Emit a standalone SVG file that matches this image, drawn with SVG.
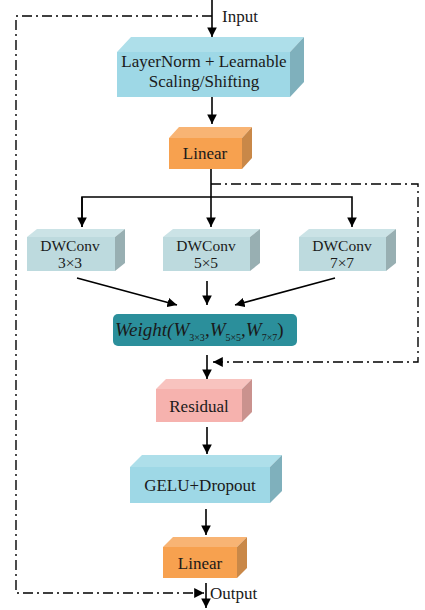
<svg xmlns="http://www.w3.org/2000/svg" width="425" height="610" viewBox="0 0 425 610">
<style>
text{font-family:'Liberation Serif','DejaVu Serif',serif;fill:#1a1a1a;}
.lbl{font-size:17px;text-anchor:middle;}
.dw{font-size:15.5px;text-anchor:middle;}
.ln{stroke:#000;stroke-width:1.6;fill:none;}
.dd{stroke:#000;stroke-width:1.4;fill:none;stroke-dasharray:10 4 2 4;}
.cf{fill:#9ED8E6}.ct{fill:#AEDFEA}.cs{fill:#7FB0BC}
.of{fill:#F7A14F}.ot{fill:#F8B474}.os{fill:#C98848}
.gf{fill:#BDDADE}.gt{fill:#CBE3E6}.gs{fill:#98AFB2}
.pf{fill:#F6B2AE}.pt{fill:#F8C3BF}.ps{fill:#CA928E}
</style>
<defs>
<marker id="ah" viewBox="0 0 10 10" refX="10" refY="5" markerWidth="6" markerHeight="6" orient="auto" markerUnits="strokeWidth">
<path d="M0,0 L10,5 L0,10 z" fill="#000"/>
</marker>
<marker id="ah2" viewBox="0 0 10 10" refX="10" refY="5" markerWidth="7" markerHeight="7" orient="auto" markerUnits="strokeWidth">
<path d="M0,0 L10,5 L0,10 z" fill="#000"/>
</marker>
</defs>

<g id="connectors">
<line class="ln" x1="212" y1="0" x2="212" y2="37" marker-end="url(#ah)"/>
<line class="ln" x1="212" y1="97" x2="212" y2="124" marker-end="url(#ah)"/>
<line class="ln" x1="211" y1="169" x2="211" y2="227" marker-end="url(#ah)"/>
<polyline class="ln" points="82,227 82,197 352,197 352,227" marker-end="url(#ah)"/>
<line class="ln" x1="82" y1="197" x2="82" y2="227" marker-end="url(#ah)"/>
<line class="ln" x1="77" y1="278" x2="177" y2="305" marker-end="url(#ah)"/>
<line class="ln" x1="207" y1="281" x2="207" y2="305" marker-end="url(#ah)"/>
<line class="ln" x1="335" y1="278" x2="235" y2="305" marker-end="url(#ah)"/>
<line class="ln" x1="207" y1="355" x2="207" y2="379" marker-end="url(#ah)"/>
<line class="ln" x1="207" y1="427" x2="207" y2="454" marker-end="url(#ah)"/>
<line class="ln" x1="206" y1="509" x2="206" y2="535" marker-end="url(#ah)"/>
<line class="ln" x1="206" y1="583" x2="206" y2="608" marker-end="url(#ah)"/>
<polyline class="dd" points="211,184 418,184 418,362 213,362" marker-end="url(#ah2)"/>
<polyline class="dd" points="212,16 16,16 16,593 204,593" marker-end="url(#ah2)"/>
</g>

<text x="222" y="22" style="font-size:17px">Input</text>
<text x="210" y="599" style="font-size:17px">Output</text>

<g id="layernorm">
<polygon class="ct" points="117,52 131,37 304,37 290,52"/>
<polygon class="cs" points="290,52 304,37 304,82 290,97"/>
<rect class="cf" x="117" y="52" width="173" height="45"/>
<text class="lbl" x="204" y="67">LayerNorm + Learnable</text>
<text class="lbl" x="204" y="87">Scaling/Shifting</text>
</g>

<g id="linear1">
<polygon class="ot" points="169,138 179,127 252,127 242,138"/>
<polygon class="os" points="242,138 252,127 252,158 242,169"/>
<rect class="of" x="169" y="138" width="73" height="31"/>
<text class="lbl" x="205" y="159">Linear</text>
</g>

<g id="dwconv3">
<polygon class="gt" points="27,237 37,229 125,229 115,237"/>
<polygon class="gs" points="115,237 125,229 125,263 115,271"/>
<rect class="gf" x="27" y="237" width="88" height="34"/>
<text class="dw" x="70" y="251">DWConv</text>
<text class="dw" x="70" y="268">3×3</text>
</g>

<g id="dwconv5">
<polygon class="gt" points="163,237 173,229 260,229 250,237"/>
<polygon class="gs" points="250,237 260,229 260,263 250,271"/>
<rect class="gf" x="163" y="237" width="87" height="34"/>
<text class="dw" x="206" y="251">DWConv</text>
<text class="dw" x="206" y="268">5×5</text>
</g>

<g id="dwconv7">
<polygon class="gt" points="299,237 309,229 396,229 386,237"/>
<polygon class="gs" points="386,237 396,229 396,263 386,271"/>
<rect class="gf" x="299" y="237" width="87" height="34"/>
<text class="dw" x="342" y="251">DWConv</text>
<text class="dw" x="342" y="268">7×7</text>
</g>

<g id="weight">
<rect x="113" y="314" width="184" height="32" rx="5" fill="#2B8F9B"/>
<text x="115" y="336" style="font-size:19px;font-style:italic">Weight(W<tspan style="font-size:10px;font-style:normal" dy="5">3×3</tspan><tspan dy="-5">,W</tspan><tspan style="font-size:10px;font-style:normal" dy="5">5×5</tspan><tspan dy="-5">,W</tspan><tspan style="font-size:10px;font-style:normal" dy="5">7×7</tspan><tspan dy="-5" style="font-style:normal">)</tspan></text>
</g>

<g id="residual">
<polygon class="pt" points="156,389 166,379 252,379 242,389"/>
<polygon class="ps" points="242,389 252,379 252,412 242,422"/>
<rect class="pf" x="156" y="389" width="86" height="33"/>
<text class="lbl" x="199" y="412">Residual</text>
</g>

<g id="gelu">
<polygon class="ct" points="130,467 142,455 282,455 270,467"/>
<polygon class="cs" points="270,467 282,455 282,491 270,503"/>
<rect class="cf" x="130" y="467" width="140" height="36"/>
<text class="lbl" x="200" y="491">GELU+Dropout</text>
</g>

<g id="linear2">
<polygon class="ot" points="163,547 173,537 247,537 237,547"/>
<polygon class="os" points="237,547 247,537 247,568 237,578"/>
<rect class="of" x="163" y="547" width="74" height="31"/>
<text class="lbl" x="200" y="569">Linear</text>
</g>
</svg>
